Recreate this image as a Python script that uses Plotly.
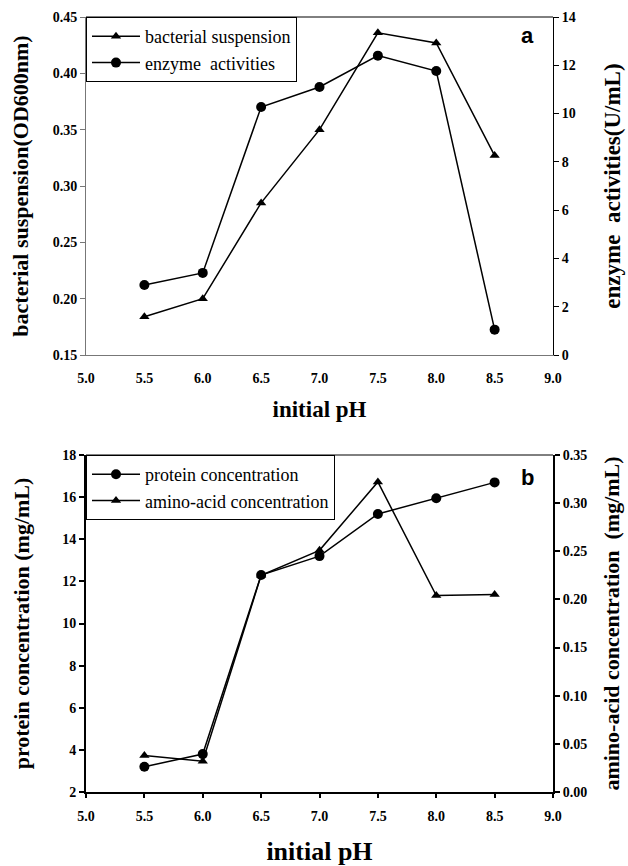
import plotly.graph_objects as go

ph = [5.5, 6.0, 6.5, 7.0, 7.5, 8.0, 8.5]
bacterial = [0.184, 0.200, 0.285, 0.350, 0.436, 0.427, 0.327]
enzyme = [2.9, 3.4, 10.27, 11.1, 12.4, 11.76, 1.05]
protein = [3.2, 3.8, 12.3, 13.2, 15.2, 15.95, 16.7]
amino = [0.038, 0.032, 0.225, 0.251, 0.322, 0.204, 0.205]
x_ticks = [5.0, 5.5, 6.0, 6.5, 7.0, 7.5, 8.0, 8.5, 9.0]
y_left_a = [0.15, 0.20, 0.25, 0.30, 0.35, 0.40, 0.45]
y_right_a = [0, 2, 4, 6, 8, 10, 12, 14]
y_left_b = [2, 4, 6, 8, 10, 12, 14, 16, 18]
y_right_b = [0.00, 0.05, 0.10, 0.15, 0.20, 0.25, 0.30, 0.35]

W, H = 628, 866
SERIF = "Liberation Serif"
XD = [86 / W, 553 / W]
YD_A = [1 - 355 / H, 1 - 17 / H]
YD_B = [1 - 792 / H, 1 - 455 / H]

tickfont = dict(family=SERIF, size=14, color="black", weight="bold")
line = dict(color="black", width=1.5)

fig = go.Figure()
fig.add_trace(go.Scatter(x=ph, y=bacterial, name="bacterial suspension", mode="lines+markers",
                         line=line, marker=dict(symbol="triangle-up", size=9, color="black"),
                         xaxis="x", yaxis="y", legend="legend"))
fig.add_trace(go.Scatter(x=ph, y=enzyme, name="enzyme  activities", mode="lines+markers",
                         line=line, marker=dict(symbol="circle", size=10, color="black"),
                         xaxis="x", yaxis="y2", legend="legend"))
fig.add_trace(go.Scatter(x=ph, y=protein, name="protein concentration", mode="lines+markers",
                         line=line, marker=dict(symbol="circle", size=10, color="black"),
                         xaxis="x2", yaxis="y3", legend="legend2"))
fig.add_trace(go.Scatter(x=ph, y=amino, name="amino-acid concentration", mode="lines+markers",
                         line=line, marker=dict(symbol="triangle-up", size=9, color="black"),
                         xaxis="x2", yaxis="y4", legend="legend2"))

def xaxis(anchor, color, lw, title_size, standoff, ticks, lblstand):
    return dict(domain=XD, anchor=anchor, range=[5.0, 9.0], tickvals=x_ticks,
                ticktext=[f"{v:.1f}" for v in x_ticks], tickfont=tickfont,
                showgrid=False, zeroline=False, showline=True, linecolor=color, linewidth=lw,
                ticks=ticks, ticklen=4, tickcolor=color, tickwidth=lw, ticklabelstandoff=lblstand,
                title=dict(text="initial pH", font=dict(family=SERIF, size=title_size, color="black", weight="bold"),
                           standoff=standoff))

def yaxis(domain, rng, vals, fmt, title, side, color, lw, anchor, size, standoff, overlaying=None):
    d = dict(domain=domain, range=rng, tickvals=vals, ticktext=[fmt.format(v) for v in vals],
             tickfont=tickfont, showgrid=False, zeroline=False, showline=True, linecolor=color,
             linewidth=lw, ticks="outside", ticklen=5, tickcolor=color, tickwidth=lw, side=side,
             anchor=anchor,
             title=dict(text=title, font=dict(family=SERIF, size=size, color="black", weight="bold"),
                        standoff=standoff))
    if overlaying:
        d["overlaying"] = overlaying
    return d

legend_font = dict(family=SERIF, size=18, color="black")

fig.update_layout(
    width=W, height=H, margin=dict(l=0, r=0, t=0, b=0, autoexpand=False),
    paper_bgcolor="white", plot_bgcolor="white",
    xaxis=xaxis("y", "#777777", 1, 23, 16, "", 10),
    yaxis=yaxis(YD_A, [0.15, 0.45], y_left_a, "{:.2f}", "bacterial suspension(OD600nm)", "left",
                "#777777", 1, "x", 22, 18),
    yaxis2=yaxis(YD_A, [0, 14], y_right_a, "{:d}", "enzyme  activities(U/mL)", "right", "black", 1,
                 "x", 23, 29, "y"),
    xaxis2=xaxis("y3", "black", 2, 26, 20, "outside", 6),
    yaxis3=yaxis(YD_B, [2, 18], y_left_b, "{:d}", "protein concentration (mg/mL)", "left", "black", 2,
                 "x2", 22, 27),
    yaxis4=yaxis(YD_B, [0, 0.35], y_right_b, "{:.2f}", "amino-acid concentration  (mg/mL)", "right",
                 "black", 2, "x2", 22, 17, "y3"),
    legend=dict(x=86 / W, y=1 - 17 / H, xanchor="left", yanchor="top", bgcolor="white",
                bordercolor="black", borderwidth=1, font=legend_font, tracegroupgap=0, itemwidth=48),
    legend2=dict(x=86 / W, y=1 - 455 / H, xanchor="left", yanchor="top", bgcolor="white",
                 bordercolor="black", borderwidth=1, font=legend_font, tracegroupgap=0, itemwidth=48),
    showlegend=True,
    shapes=[
        dict(type="line", xref="x domain", yref="y domain", x0=0, x1=1, y0=1, y1=1,
             line=dict(color="black", width=1)),
        dict(type="line", xref="x2 domain", yref="y3 domain", x0=0, x1=1, y0=1, y1=1,
             line=dict(color="black", width=1)),
    ],
    annotations=[
        dict(text="a", xref="x domain", yref="y domain", x=(527 - 86) / 467, y=(355 - 35) / 338,
             xanchor="center", yanchor="middle", showarrow=False,
             font=dict(family="Liberation Sans", size=22, color="black", weight="bold")),
        dict(text="b", xref="x2 domain", yref="y3 domain", x=(527 - 86) / 467, y=(792 - 477) / 337,
             xanchor="center", yanchor="middle", showarrow=False,
             font=dict(family="Liberation Sans", size=22, color="black", weight="bold")),
    ],
)

fig.write_html("out.html")
